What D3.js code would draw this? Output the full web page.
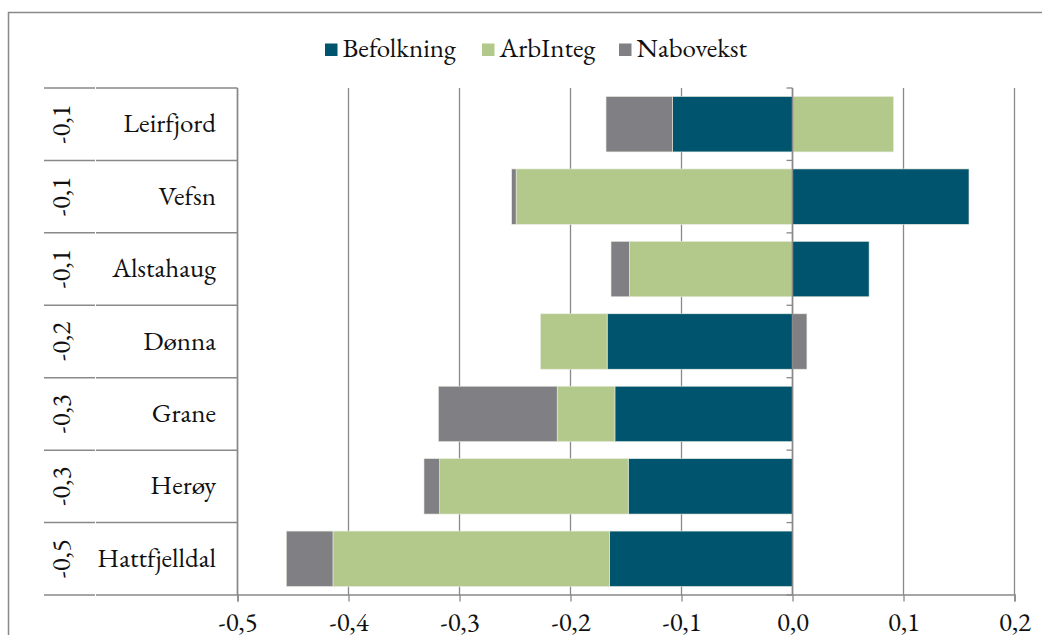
<!DOCTYPE html>
<html><head><meta charset="utf-8">
<script src="https://cdn.jsdelivr.net/npm/d3@7"></script>
<style>body{margin:0;background:#fff}svg{display:block}</style>
</head><body><svg id="c" width="1042" height="635"></svg>
<script>
const categories = ["Leirfjord","Vefsn","Alstahaug","Dønna","Grane","Herøy","Hattfjelldal"];
const totalLabels = ["-0,1","-0,1","-0,1","-0,2","-0,3","-0,3","-0,5"];
const seriesNames = ["Befolkning","ArbInteg","Nabovekst"];
const befolkning = [-0.108, 0.159, 0.069, -0.167, -0.160, -0.148, -0.165];
const arbInteg   = [ 0.091,-0.249,-0.147, -0.060, -0.052, -0.170, -0.249];
const nabovekst  = [-0.060,-0.004,-0.0165, 0.013, -0.107, -0.014, -0.042];
const xTicks = [-0.5,-0.4,-0.3,-0.2,-0.1,0.0,0.1,0.2];
const colors = ["#00546e","#b3c98c","#807f83"];

const FONT = '"EB Garamond", "Liberation Serif", serif';
const FS = "27px";
const svg = d3.select("#c");
const grey = "#898989";
svg.append("rect").attr("x",8.5).attr("y",12.5).attr("width",1100).attr("height",700)
  .attr("fill","none").attr("stroke",grey).attr("stroke-width",1.5);

const x = d3.scaleLinear().domain([-0.5,0.2]).range([237.5,1014.5]);
const y = d3.scaleBand().domain(categories).range([88,595]).paddingInner(0.235).paddingOuter(0.1175);
const rowH = (595-88)/categories.length;

const table = categories.map((c,i)=>({cat:c, Befolkning:befolkning[i], ArbInteg:arbInteg[i], Nabovekst:nabovekst[i]}));
const stack = d3.stack().keys(seriesNames).offset(d3.stackOffsetDiverging)(table);

svg.append("g").selectAll("line").data(xTicks).join("line")
  .attr("x1",d=>x(d)).attr("x2",d=>x(d)).attr("y1",88).attr("y2",595)
  .attr("stroke",grey).attr("stroke-width",1.3);

svg.append("g").selectAll("g").data(stack).join("g").attr("fill",(d,i)=>colors[i])
  .selectAll("rect").data(d=>d).join("rect")
  .attr("x",d=>x(Math.min(d[0],d[1]))).attr("width",d=>Math.abs(x(d[1])-x(d[0])))
  .attr("y",d=>y(d.data.cat)).attr("height",y.bandwidth())
  .attr("stroke","#e8ece0").attr("stroke-width",0.6);

svg.append("line").attr("x1",x(0)).attr("x2",x(0)).attr("y1",88).attr("y2",595).attr("stroke",grey).attr("stroke-width",1.5);
const bounds = d3.range(categories.length+1).map(i=>88+i*rowH);
svg.append("g").selectAll("line").data(bounds).join("line")
  .attr("x1",x(0)-6).attr("x2",x(0)).attr("y1",d=>d).attr("y2",d=>d).attr("stroke",grey).attr("stroke-width",1.3);

const xAxis = d3.axisBottom(x).tickValues(xTicks).tickSize(7).tickFormat(d=>d3.format(".1f")(d).replace(".",",").replace("−","-"));
const gx = svg.append("g").attr("transform","translate(0,594.5)").call(xAxis);
gx.select(".domain").attr("stroke",grey).attr("stroke-width",1.5);
gx.selectAll(".tick line").attr("stroke",grey).attr("stroke-width",1.3);
gx.selectAll(".tick text").attr("dy","0").attr("y",36.5).attr("fill","#111").style("font-family",FONT).style("font-size",FS);

svg.append("line").attr("x1",x(-0.5)).attr("x2",x(-0.5)).attr("y1",88).attr("y2",595).attr("stroke",grey).attr("stroke-width",1.5);

const tl = svg.append("g");
bounds.forEach(b=>{
  tl.append("line").attr("x1",44).attr("x2",95).attr("y1",b).attr("y2",b).attr("stroke",grey).attr("stroke-width",1.5);
  tl.append("line").attr("x1",96).attr("x2",237.5).attr("y1",b).attr("y2",b).attr("stroke",grey).attr("stroke-width",1.5);
});

svg.append("g").selectAll("text").data(categories).join("text")
  .attr("x",216).attr("y",(d,i)=>88+(i+0.5)*rowH+8).attr("text-anchor","end")
  .style("font-family",FONT).style("font-size",FS).attr("fill","#111").text(d=>d);
svg.append("g").selectAll("text").data(totalLabels).join("text")
  .attr("transform",(d,i)=>`translate(70,${88+(i+0.5)*rowH}) rotate(-90)`)
  .attr("text-anchor","middle").style("font-family",FONT).style("font-size",FS).attr("fill","#111").text(d=>d);

const legX = [325,482,619];
const lg = svg.append("g");
seriesNames.forEach((s,i)=>{
  lg.append("rect").attr("x",legX[i]).attr("y",43.5).attr("width",12.5).attr("height",12.5).attr("fill",colors[i]);
  lg.append("text").attr("x",legX[i]+17.5).attr("y",57).style("font-family",FONT).style("font-size",FS).attr("fill","#111").text(s);
});
</script></body></html>
